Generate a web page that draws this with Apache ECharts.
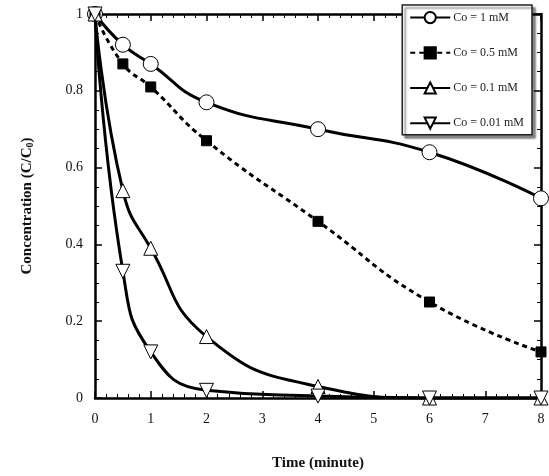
<!DOCTYPE html>
<html>
<head>
<meta charset="utf-8">
<script src="https://cdn.jsdelivr.net/npm/echarts@6/dist/echarts.min.js"></script>
<style>
  html, body { margin: 0; padding: 0; background: #fff; }
  #chart { width: 549px; height: 476px; }
</style>
</head>
<body>
<div id="chart"></div>
<script>
  // time (minute)
  var times = [0, 0.5, 1, 2, 4, 6, 8]
  // C/C0 for each initial concentration
  var co1 = [1, 0.92, 0.87, 0.77, 0.70, 0.64, 0.52]
  var co05 = [1, 0.87, 0.81, 0.67, 0.46, 0.25, 0.12]
  var co01 = [1, 0.54, 0.39, 0.16, 0.03, 0.0, 0.0]
  var co001 = [1, 0.33, 0.12, 0.02, 0.005, 0.0, 0.0]
  var seriesNames = ['Co = 1 mM', 'Co = 0.5 mM', 'Co = 0.1 mM', 'Co = 0.01 mM']

  var serif = '"Liberation Serif", "Times New Roman", serif'

  function pairs(ys) {
    return times.map(function (t, i) { return [t, ys[i]] })
  }

  function lineSeries(name, ys, symbol, size, filled, dashed) {
    return {
      name: name,
      type: 'line',
      data: pairs(ys),
      smooth: 0.5,
      symbol: symbol,
      symbolSize: size,
      showAllSymbol: true,
      lineStyle: { color: '#000', width: 3, type: dashed ? [5, 4] : 'solid' },
      itemStyle: {
        color: filled ? '#000' : '#fff',
        borderColor: '#000',
        borderWidth: 1
      },
      emphasis: { disabled: true }
    }
  }

  var chart = echarts.init(document.getElementById('chart'))

  var tickCommon = {
    axisLine: { show: true, onZero: false, lineStyle: { color: '#000', width: 2.5 } },
    axisTick: { show: true, inside: true, length: 7, lineStyle: { color: '#000', width: 1.5 } },
    splitLine: { show: false }
  }

  chart.setOption({
    animation: false,
    grid: { left: 95, right: 8, top: 14, bottom: 75 },
    legend: {
      data: seriesNames,
      orient: 'vertical',
      right: 17,
      top: 5,
      padding: [6, 8, 5, 7],
      itemWidth: 40,
      itemHeight: 14,
      itemGap: 22,
      backgroundColor: '#fff',
      borderColor: '#222',
      borderWidth: 1.5,
      shadowColor: 'rgba(0,0,0,0.45)',
      shadowBlur: 2,
      shadowOffsetX: 3,
      shadowOffsetY: 3,
      textStyle: { fontFamily: serif, fontSize: 12, color: '#222', padding: [0, 0, 0, -2] }
    },
    xAxis: [
      Object.assign({
        type: 'value', min: 0, max: 8, interval: 1,
        name: 'Time (minute)', nameLocation: 'middle', nameGap: 58,
        nameTextStyle: { fontFamily: serif, fontSize: 15, fontWeight: 'bold', color: '#111' },
        minorTick: { show: true, splitNumber: 5, length: 4, lineStyle: { color: '#000', width: 1 } },
        axisLabel: { margin: 14, fontFamily: serif, fontSize: 14, color: '#111' }
      }, tickCommon),
      Object.assign({
        type: 'value', min: 0, max: 8, interval: 1, position: 'top',
        minorTick: { show: true, splitNumber: 5, length: 4, lineStyle: { color: '#000', width: 1 } },
        axisLabel: { show: false }
      }, tickCommon)
    ],
    yAxis: [
      Object.assign({
        type: 'value', min: 0, max: 1, interval: 0.2,
        name: 'Concentration (C/C{sub|0})', nameLocation: 'middle', nameGap: 60,
        nameTextStyle: {
          fontFamily: serif, fontSize: 15, fontWeight: 'bold', color: '#111',
          rich: { sub: { fontFamily: serif, fontSize: 10, fontWeight: 'bold', verticalAlign: 'bottom', padding: [6, 0, 0, 0] } }
        },
        minorTick: { show: true, splitNumber: 4, length: 4, lineStyle: { color: '#000', width: 1 } },
        axisLabel: { margin: 12, fontFamily: serif, fontSize: 14, color: '#111' }
      }, tickCommon),
      Object.assign({
        type: 'value', min: 0, max: 1, interval: 0.2, position: 'right',
        minorTick: { show: true, splitNumber: 4, length: 4, lineStyle: { color: '#000', width: 1 } },
        axisLabel: { show: false }
      }, tickCommon)
    ],
    series: [
      lineSeries(seriesNames[0], co1, 'circle', 15, false, false),
      lineSeries(seriesNames[1], co05, 'rect', 10, true, true),
      lineSeries(seriesNames[2], co01, 'triangle', 14, false, false),
      lineSeries(seriesNames[3], co001, 'path://M0,0 L10,0 L5,10 Z', 14, false, false)
    ]
  })
</script>
</body>
</html>
